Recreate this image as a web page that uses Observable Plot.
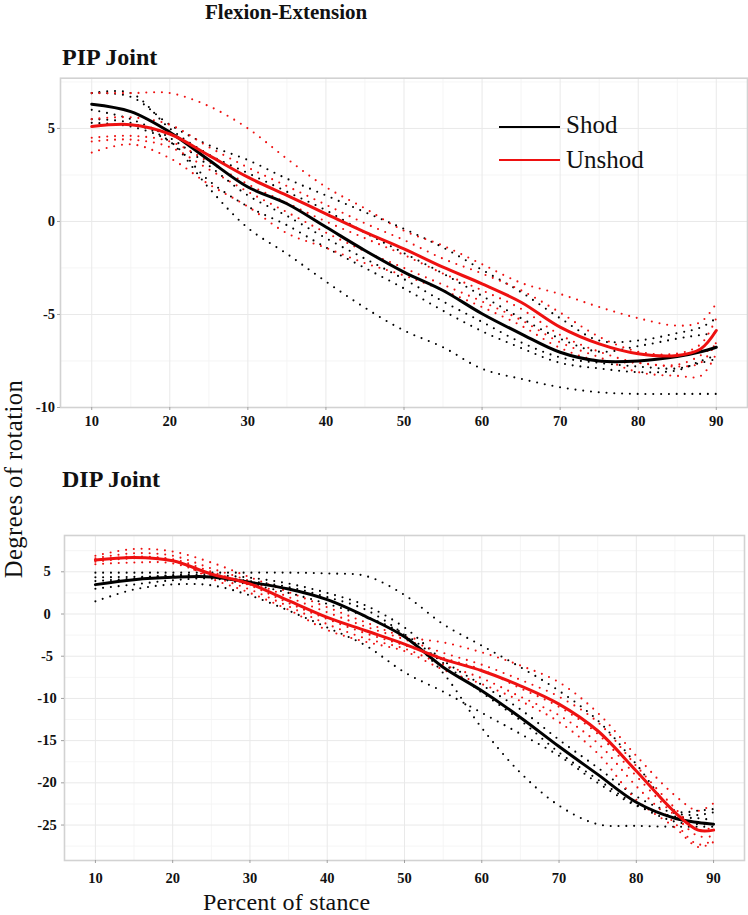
<!DOCTYPE html>
<html>
<head>
<meta charset="utf-8">
<script src="https://cdn.jsdelivr.net/npm/d3@7"></script>
<script src="https://cdn.jsdelivr.net/npm/@observablehq/plot@0.6"></script>
<style>
html, body { margin: 0; padding: 0; background: #fff; }
#page { position: relative; width: 748px; height: 915px; overflow: hidden;
  font-family: "Liberation Serif", "Times New Roman", serif; color: #111; }
.abs { position: absolute; white-space: nowrap; line-height: 1; }
.plot { position: absolute; left: 0; }
.plot svg text { font-family: "Liberation Serif", "Times New Roman", serif !important; font-weight: bold; }
</style>
</head>
<body>
<div id="page">
  <div class="abs" style="left:205px;top:3.5px;font-size:21px;line-height:0.8;font-weight:bold;">Flexion-Extension</div>
  <div class="abs" style="left:62px;top:44.9px;font-size:24px;font-weight:bold;">PIP Joint</div>
  <div class="abs" style="left:62px;top:466.6px;font-size:24px;font-weight:bold;">DIP Joint</div>
  <div class="abs" style="left:14px;top:479px;font-size:24.5px;letter-spacing:0.5px;line-height:0.85;transform:translate(-50%,-50%) rotate(-90deg);">Degrees of rotation</div>
  <div class="abs" style="left:203px;top:891.6px;font-size:24px;letter-spacing:0.2px;line-height:0.85;">Percent of stance</div>
  <div id="pip" class="plot" style="top:70px;"></div>
  <div id="dip" class="plot" style="top:525px;"></div>
  <div id="legend" class="abs" style="left:0;top:0;"></div>
</div>
<script>
// ---------------- data ----------------
const pct = [10, 15, 20, 25, 30, 35, 40, 45, 50, 55, 60, 65, 70, 75, 80, 85, 88, 90];
const groups = ["Shod", "Unshod"];
const groupColors = ["#000000", "#ee1111"];

const xTicks = [10, 20, 30, 40, 50, 60, 70, 80, 90];
const xMinor = [15, 25, 35, 45, 55, 65, 75, 85];

// PIP joint
const pipShodMean   = [6.3, 5.9, 4.8, 3.3, 1.85, 0.95, -0.3, -1.56, -2.72, -3.71, -4.96, -6.04, -7.03, -7.5, -7.5, -7.26, -7.0, -6.76];
const pipUnshodMean = [5.1, 5.2, 4.7, 3.55, 2.38, 1.4, 0.41, -0.57, -1.47, -2.46, -3.35, -4.34, -5.68, -6.58, -7.11, -7.2, -6.85, -5.86];
const pipShodTrials = [
  [6.9, 6.7, 5.2, 4.1, 3.3, 2.3, 1.4, 0.5, -0.4, -1.4, -2.6, -3.8, -5.2, -6.4, -6.4, -6.0, -5.7, -5.2],
  [6.9, 6.9, 5.0, 3.6, 2.6, 1.6, 0.6, -0.6, -1.7, -2.8, -4.0, -5.2, -6.3, -7.0, -6.7, -6.3, -6.1, -6.0],
  [6.0, 5.5, 4.5, 3.0, 1.4, 0.3, -0.9, -2.0, -3.1, -4.3, -5.4, -6.5, -7.3, -7.6, -7.8, -7.9, -7.6, -7.4],
  [5.3, 5.1, 4.3, 2.2, 0.8, -0.2, -1.4, -2.5, -3.6, -4.8, -5.9, -6.8, -7.6, -7.9, -8.1, -8.0, -7.5, -7.2],
  [5.5, 5.3, 4.3, 1.8, -0.35, -1.74, -3.23, -4.64, -5.86, -6.76, -7.92, -8.46, -8.91, -9.18, -9.27, -9.27, -9.27, -9.27]
];
const pipUnshodTrials = [
  [6.9, 6.9, 6.9, 6.2, 5.0, 3.37, 1.85, 0.7, -0.5, -1.3, -2.3, -3.3, -3.9, -4.6, -5.2, -5.6, -5.4, -4.4],
  [5.5, 5.6, 5.2, 4.0, 2.9, 1.9, 0.9, -0.1, -1.0, -2.0, -2.8, -3.7, -4.9, -6.2, -7.0, -7.1, -6.6, -5.2],
  [4.5, 4.6, 4.3, 3.2, 2.0, 1.0, 0.0, -0.9, -1.8, -2.8, -3.7, -4.7, -6.1, -7.0, -7.6, -7.7, -7.2, -6.6],
  [4.3, 4.4, 4.0, 2.8, 1.6, 0.5, -0.6, -1.6, -2.5, -3.4, -4.3, -5.3, -6.5, -7.3, -8.1, -8.3, -8.3, -7.1],
  [3.7, 4.15, 3.4, 2.0, 0.8, -0.63, -1.42, -2.24, -2.9, -3.7, -4.6, -5.6, -6.8, -7.5, -7.6, -7.8, -7.6, -6.5]
];
const pipYTicks = [-10, -5, 0, 5];
const pipYMinor = [-7.5, -2.5, 2.5, 7.5];

// DIP joint
const dipShodMean   = [3.48, 4.07, 4.35, 4.39, 3.75, 2.96, 1.7, -0.3, -2.69, -6.3, -9.1, -12.25, -15.7, -19.0, -22.3, -24.2, -24.7, -24.9];
const dipUnshodMean = [6.4, 6.7, 6.3, 4.74, 3.56, 1.58, -0.4, -1.98, -3.56, -5.34, -6.72, -8.5, -10.67, -13.83, -18.6, -23.5, -25.6, -25.6];
const dipShodTrials = [
  [4.9, 4.9, 4.9, 4.9, 4.9, 4.9, 4.8, 4.5, 2.25, -1.2, -3.75, -6.3, -9.1, -12.6, -17.8, -23.3, -23.3, -23.1],
  [4.35, 4.4, 4.5, 4.4, 3.9, 3.2, 2.0, 0.5, -2.5, -7.0, -13.5, -18.8, -22.7, -24.9, -25.1, -25.2, -25.2, -25.2],
  [1.5, 2.9, 3.5, 3.4, 2.2, 0.4, -1.6, -3.75, -6.9, -9.2, -11.7, -14.2, -16.8, -20.0, -22.7, -24.0, -24.2, -24.4],
  [3.9, 4.2, 4.6, 4.6, 4.3, 3.6, 2.5, 1.0, -1.6, -5.5, -8.4, -11.3, -14.9, -18.2, -21.6, -23.6, -23.8, -23.5],
  [3.0, 3.5, 4.0, 4.2, 3.5, 2.5, 1.2, -0.3, -2.4, -5.8, -9.3, -12.6, -16.4, -19.6, -22.6, -24.6, -24.9, -24.9]
];
const dipUnshodTrials = [
  [6.9, 7.7, 7.4, 6.1, 4.35, 2.6, 0.8, -1.0, -2.69, -3.36, -4.55, -6.1, -8.1, -11.7, -16.8, -21.5, -23.3, -22.4],
  [6.6, 7.2, 6.9, 5.4, 3.9, 2.0, 0.2, -1.5, -3.0, -4.6, -6.0, -7.8, -9.8, -12.8, -18.0, -23.0, -25.6, -25.2],
  [6.2, 6.6, 6.5, 5.0, 3.4, 1.3, -0.6, -2.3, -3.7, -5.2, -6.6, -8.8, -11.0, -14.2, -19.2, -23.9, -26.3, -26.3],
  [5.9, 6.1, 6.0, 4.5, 2.9, 0.9, -1.2, -2.9, -4.1, -6.0, -7.6, -9.8, -12.0, -15.3, -20.4, -24.8, -27.3, -26.8],
  [6.4, 6.8, 6.4, 4.2, 2.5, 0.5, -1.9, -3.3, -4.4, -6.6, -8.3, -10.3, -12.8, -16.5, -22.0, -25.3, -27.6, -27.0]
];
const dipYTicks = [-25, -20, -15, -10, -5, 0, 5];
const dipYMinor = [-27.5, -22.5, -17.5, -12.5, -7.5, -2.5, 2.5, 7.5];

// ---------------- drawing ----------------
function rows(xs, series, group) {
  return series.flatMap((ys, i) => ys.map((y, j) => ({x: xs[j], y, id: group + i, group})));
}

function panel(o) {
  const trials = [...rows(pct, o.shodTrials, "Shod"), ...rows(pct, o.unshodTrials, "Unshod")];
  const means = [...rows(pct, [o.shodMean], "ShodMean").map(d => ({...d, group: "Shod"})),
                 ...rows(pct, [o.unshodMean], "UnshodMean").map(d => ({...d, group: "Unshod"}))];
  const font = {fontFamily: "Liberation Serif", fontWeight: "bold", fontSize: 14.5};
  return Plot.plot({
    width: 748, height: o.height,
    marginLeft: o.marginLeft, marginRight: o.marginRight, marginTop: o.marginTop, marginBottom: o.marginBottom,
    x: {domain: [6, 94]},
    y: {domain: o.yDomain},
    color: {domain: groups, range: groupColors},
    style: {fontFamily: "Liberation Serif", background: "transparent", overflow: "visible", color: "#111"},
    marks: [
      Plot.gridX(xMinor, {stroke: "#f4f4f4", strokeOpacity: 1, strokeWidth: 0.9}),
      Plot.gridY(o.yMinor, {stroke: "#f4f4f4", strokeOpacity: 1, strokeWidth: 0.9}),
      Plot.gridX(xTicks, {stroke: "#e9e9e9", strokeOpacity: 1, strokeWidth: 1}),
      Plot.gridY(o.yTicks, {stroke: "#e9e9e9", strokeOpacity: 1, strokeWidth: 1}),
      Plot.line(trials, {x: "x", y: "y", z: "id", stroke: "group", strokeWidth: 2.1,
        strokeDasharray: "0,7.8", strokeLinecap: "round", curve: "catmull-rom"}),
      Plot.line(means, {x: "x", y: "y", z: "id", stroke: "group", strokeWidth: 3, curve: "catmull-rom"}),
      Plot.frame({stroke: "#d2d2d2", strokeWidth: 1.6}),
      Plot.axisX(xTicks, {tickSize: 3, tickPadding: o.xTickPadding, stroke: "#a0a0a0", fill: "#111",
        tickFormat: d => String(d), label: null, ...font}),
      Plot.axisY(o.yTicks, {tickSize: 3, tickPadding: o.yTickPadding, textAnchor: o.yTextAnchor, stroke: "#a0a0a0", fill: "#111",
        tickFormat: d => String(d), label: null, ...font})
    ]
  });
}

document.getElementById("pip").append(panel({
  shodMean: pipShodMean, unshodMean: pipUnshodMean,
  shodTrials: pipShodTrials, unshodTrials: pipUnshodTrials,
  yDomain: [-10, 7.7], yTicks: pipYTicks, yMinor: pipYMinor,
  height: 370, marginLeft: 60, marginRight: 1, marginTop: 7.7, marginBottom: 33,
  xTickPadding: 5, yTickPadding: 2.5, yTextAnchor: "end"
}));

document.getElementById("dip").append(panel({
  shodMean: dipShodMean, unshodMean: dipUnshodMean,
  shodTrials: dipShodTrials, unshodTrials: dipUnshodTrials,
  yDomain: [-29.2, 9.3], yTicks: dipYTicks, yMinor: dipYMinor,
  height: 365, marginLeft: 64, marginRight: 4, marginTop: 10, marginBottom: 30,
  xTickPadding: 9, yTickPadding: 14.5, yTextAnchor: "middle"
}));

// legend (inside PIP panel)
const legend = d3.select("#legend");
const legendSvg = legend.append("svg").attr("width", 748).attr("height", 200)
  .style("position", "absolute").style("left", "0px").style("top", "0px");
const legendRows = [{label: groups[0], y: 127, top: 112.4, color: groupColors[0]},
                    {label: groups[1], y: 160, top: 147.4, color: groupColors[1]}];
legendSvg.selectAll("line").data(legendRows).join("line")
  .attr("x1", 499).attr("x2", 560).attr("y1", d => d.y).attr("y2", d => d.y)
  .attr("stroke", d => d.color).attr("stroke-width", 2);
legend.selectAll("div").data(legendRows).join("div")
  .attr("class", "abs")
  .style("left", "566px").style("top", d => d.top + "px").style("font-size", "25px")
  .text(d => d.label);
</script>
</body>
</html>
